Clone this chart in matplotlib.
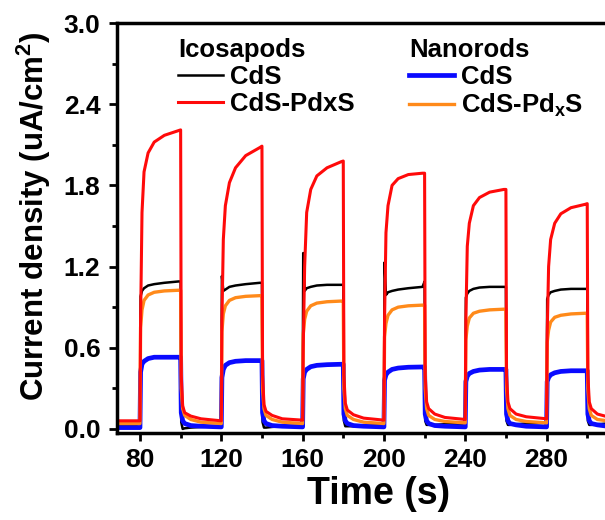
import matplotlib
matplotlib.use('Agg')
import matplotlib.pyplot as plt
from matplotlib.ticker import MultipleLocator, FormatStrFormatter

plt.rcParams['font.family'] = ['Liberation Sans', 'DejaVu Sans']
plt.rcParams['font.weight'] = 'bold'
plt.rcParams['axes.labelweight'] = 'bold'
plt.rcParams['mathtext.fontset'] = 'custom'
plt.rcParams['mathtext.rm'] = 'Liberation Sans:bold'
plt.rcParams['mathtext.it'] = 'Liberation Sans:bold'
plt.rcParams['mathtext.bf'] = 'Liberation Sans:bold'

#======== data (time in s, current density in uA/cm2) ========
t = [69, 80,
     80.3, 81, 82, 84, 87, 92, 99, 100, 100.3, 101, 102, 105, 110, 120,
     120.3, 121, 122, 124, 127, 132, 139, 140, 140.3, 141, 142, 145, 150, 160,
     160.3, 161, 162, 164, 167, 172, 179, 180, 180.3, 181, 182, 185, 190, 200,
     200.3, 201, 202, 204, 207, 212, 219, 220, 220.3, 221, 222, 225, 230, 240,
     240.3, 241, 242, 244, 247, 252, 259, 260, 260.3, 261, 262, 265, 270, 280,
     280.3, 281, 282, 284, 287, 292, 299, 300, 300.3, 301, 302, 305, 310]

ico_cds = [0.02, 0.02,
           0.98, 1.02, 1.04, 1.06, 1.07, 1.08, 1.09, 1.09, 0.05, 0.0, 0.005, 0.01, 0.015, 0.02,
           1.13, 1.02, 1.03, 1.05, 1.06, 1.07, 1.08, 1.08, 0.05, 0.01, 0.01, 0.015, 0.02, 0.025,
           1.30, 1.02, 1.04, 1.05, 1.06, 1.065, 1.065, 1.065, 0.06, 0.02, 0.02, 0.02, 0.025, 0.03,
           1.23, 0.99, 1.01, 1.02, 1.03, 1.04, 1.05, 1.09, 0.06, 0.03, 0.03, 0.03, 0.035, 0.04,
           0.97, 1.00, 1.02, 1.035, 1.045, 1.05, 1.05, 1.05, 0.06, 0.03, 0.03, 0.035, 0.04, 0.045,
           0.96, 0.99, 1.01, 1.02, 1.03, 1.035, 1.035, 1.035, 0.06, 0.03, 0.03, 0.035, 0.04]

ico_pdxs = [0.06, 0.06,
            0.80, 1.60, 1.90, 2.04, 2.12, 2.17, 2.205, 2.21, 0.40, 0.17, 0.12, 0.095, 0.075, 0.06,
            0.80, 1.40, 1.65, 1.82, 1.93, 2.02, 2.08, 2.09, 0.40, 0.18, 0.13, 0.10, 0.075, 0.065,
            0.60, 1.20, 1.60, 1.77, 1.87, 1.93, 1.975, 1.98, 0.40, 0.19, 0.14, 0.105, 0.08, 0.065,
            0.80, 1.45, 1.65, 1.80, 1.85, 1.88, 1.89, 1.89, 0.40, 0.20, 0.15, 0.11, 0.085, 0.07,
            0.80, 1.35, 1.52, 1.65, 1.71, 1.75, 1.77, 1.77, 0.40, 0.20, 0.15, 0.11, 0.09, 0.075,
            0.70, 1.20, 1.40, 1.52, 1.59, 1.635, 1.66, 1.665, 0.40, 0.20, 0.15, 0.11, 0.09]

rod_cds = [0.01, 0.01,
           0.42, 0.48, 0.50, 0.52, 0.53, 0.53, 0.53, 0.53, 0.12, 0.06, 0.04, 0.025, 0.02, 0.015,
           0.38, 0.44, 0.47, 0.49, 0.50, 0.505, 0.505, 0.505, 0.12, 0.06, 0.04, 0.025, 0.02, 0.015,
           0.37, 0.42, 0.44, 0.46, 0.47, 0.475, 0.478, 0.478, 0.11, 0.06, 0.04, 0.025, 0.02, 0.015,
           0.36, 0.40, 0.42, 0.44, 0.45, 0.456, 0.458, 0.458, 0.11, 0.06, 0.04, 0.025, 0.02, 0.015,
           0.35, 0.39, 0.41, 0.425, 0.435, 0.44, 0.44, 0.44, 0.11, 0.06, 0.04, 0.03, 0.02, 0.015,
           0.35, 0.38, 0.40, 0.415, 0.425, 0.43, 0.43, 0.43, 0.11, 0.06, 0.04, 0.03, 0.02]

rod_pdxs = [0.04, 0.04,
            0.75, 0.88, 0.95, 0.99, 1.01, 1.02, 1.025, 1.025, 0.30, 0.15, 0.10, 0.07, 0.05, 0.04,
            0.72, 0.85, 0.91, 0.95, 0.97, 0.98, 0.985, 0.985, 0.30, 0.15, 0.10, 0.07, 0.05, 0.04,
            0.70, 0.81, 0.87, 0.91, 0.93, 0.94, 0.945, 0.945, 0.30, 0.15, 0.10, 0.07, 0.05, 0.04,
            0.68, 0.78, 0.84, 0.88, 0.90, 0.91, 0.915, 0.915, 0.30, 0.15, 0.10, 0.07, 0.055, 0.045,
            0.66, 0.76, 0.82, 0.855, 0.87, 0.88, 0.885, 0.885, 0.30, 0.15, 0.10, 0.07, 0.055, 0.045,
            0.64, 0.73, 0.79, 0.825, 0.84, 0.85, 0.855, 0.855, 0.30, 0.15, 0.10, 0.07, 0.06]

#===================================================================
fig = plt.figure(figsize=(6.05, 5.2), dpi=100)
# plot area is cropped at the right edge of the picture
ax = fig.add_axes([117/605, 87/520, (605-117)/605, 410/520])

l_ico_cds, = ax.plot(t, ico_cds, color='black', lw=1.8, label='CdS')
l_rod_cds, = ax.plot(t, rod_cds, color='#0a0aff', lw=3.4, label='CdS')
l_rod_pdxs, = ax.plot(t, rod_pdxs, color='#ff8a1a', lw=2.4, label='CdS-Pd$_x$S')
l_ico_pdxs, = ax.plot(t, ico_pdxs, color='#ff0a0a', lw=2.2, label='CdS-PdxS')

ax.set_xlim(68.7, 68.7 + 488/2.033)
ax.set_ylim(-0.03, 3.0)
ax.xaxis.set_major_locator(MultipleLocator(40))
ax.xaxis.set_minor_locator(MultipleLocator(20))
ax.yaxis.set_major_locator(MultipleLocator(0.6))
ax.yaxis.set_minor_locator(MultipleLocator(0.3))
ax.yaxis.set_major_formatter(FormatStrFormatter('%.1f'))
ax.tick_params(which='major', length=6, width=2, labelsize=19)
ax.tick_params(which='minor', length=3.5, width=2)
ax.tick_params(axis='x', which='major', pad=5)
ax.tick_params(axis='y', which='major', pad=6)
for s in ax.spines.values():
    s.set_linewidth(2.5)
ax.spines['right'].set_visible(False)

ax.set_xlabel('Time (s)', fontsize=27, labelpad=6)
ax.xaxis.set_label_coords(0.535, -0.105)
ax.set_ylabel('Current density (uA/cm$^2$)', fontsize=22.5)
ax.yaxis.set_label_coords(-0.131, 0.529)

leg_kw = dict(loc='upper left', frameon=False, fontsize=18.5, handlelength=1.75,
              handletextpad=0.28, labelspacing=0.12, borderpad=0, borderaxespad=0,
              alignment='left', title_fontproperties={'weight': 'bold', 'size': 18.5},
              bbox_transform=fig.transFigure)
leg1 = ax.legend([l_ico_cds, l_ico_pdxs], ['CdS', 'CdS-PdxS'], title='Icosapods',
                 bbox_to_anchor=(178/605, 1 - 38/520), **leg_kw)
ax.add_artist(leg1)
ax.legend([l_rod_cds, l_rod_pdxs], ['CdS', 'CdS-Pd$_x$S'], title='Nanorods',
          bbox_to_anchor=(409/605, 1 - 38/520), **leg_kw)

plt.savefig('out.png', dpi=100)
